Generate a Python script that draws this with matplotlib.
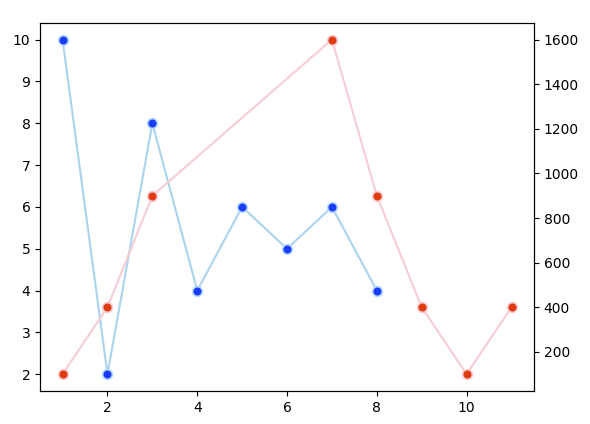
import matplotlib
matplotlib.use("Agg")
import matplotlib.pyplot as plt

x_left = [1, 2, 3, 4, 5, 6, 7, 8]
y_left = [10, 2, 8, 4, 6, 5, 6, 4]
x_right = [1, 2, 3, 7, 8, 9, 10, 11]
y_right = [100, 400, 900, 1600, 900, 400, 100, 400]

fig, ax = plt.subplots(figsize=(5.9, 4.24), dpi=100)
fig.subplots_adjust(left=0.068, right=0.905, top=0.946, bottom=0.078)

ax.plot(x_left, y_left, color="#aad4ee", lw=1.5, marker="o", markersize=7,
        markerfacecolor="#1a3cff", markeredgecolor="#b5daf3", markeredgewidth=1.2)

ax2 = ax.twinx()
ax2.plot(x_right, y_right, color="#f6cdd3", lw=1.5, marker="o", markersize=7,
         markerfacecolor="#e03a10", markeredgecolor="#f6cbd1", markeredgewidth=1.2)

ax.set_xticks([2, 4, 6, 8, 10])
ax2.set_yticks([200, 400, 600, 800, 1000, 1200, 1400, 1600])

fig.savefig("out.png")
